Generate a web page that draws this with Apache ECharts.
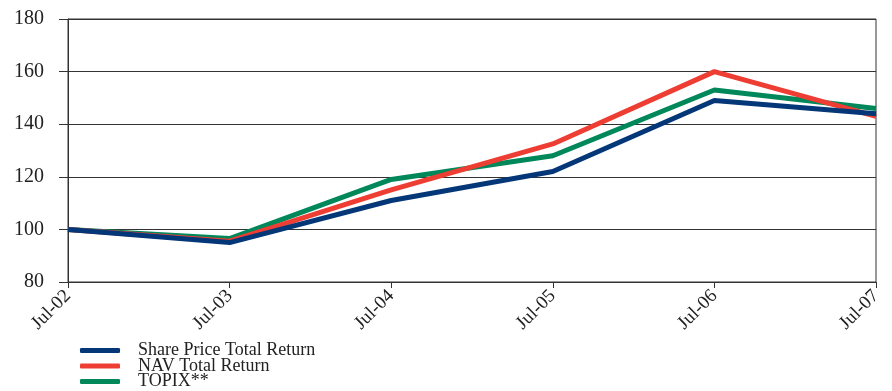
<!DOCTYPE html>
<html><head><meta charset="utf-8">
<script src="https://cdn.jsdelivr.net/npm/echarts@6/dist/echarts.min.js"></script>
<style>html,body{margin:0;padding:0;background:#fff}#c{width:892px;height:391px}</style>
</head><body><div id="c"></div>
<script>
var categories = ['Jul-02','Jul-03','Jul-04','Jul-05','Jul-06','Jul-07'];
var sharePrice = [100, 95, 111, 122, 149, 144];
var navReturn = [100, 95.5, 115, 132.5, 160, 143];
var topix = [100, 96.5, 119, 128, 153, 146];
var seriesNames = ['Share Price Total Return','NAV Total Return','TOPIX**'];

var font = '"Liberation Serif","Times New Roman",serif';
var legendTops = [341.5, 357, 372.5];
var legends = seriesNames.map(function (n, i) {
  return {
    orient: 'vertical', left: 80, top: legendTops[i], padding: 0, itemWidth: 40, itemHeight: 5,
    icon: 'roundRect', data: [n],
    textStyle: {fontFamily: font, fontSize: 18, color: '#222', padding: [0,0,0,13]}
  };
});
var chart = echarts.init(document.getElementById('c'));
chart.setOption({
  animation: false,
  grid: {left: 68, right: 16, top: 19, bottom: 109, show: true, borderColor: '#333', borderWidth: 1},
  legend: legends,
  xAxis: {
    type: 'category', data: categories, boundaryGap: false,
    axisLine: {lineStyle: {color: '#333', width: 1}},
    axisTick: {length: 6, lineStyle: {color: '#333'}},
    axisLabel: {rotate: 45, fontFamily: font, fontSize: 19, color: '#222', margin: 11},
    splitLine: {show: false}
  },
  yAxis: {
    type: 'value', min: 80, max: 180, interval: 20,
    axisLine: {show: true, lineStyle: {color: '#333'}},
    axisTick: {show: true, length: 9, lineStyle: {color: '#333'}},
    axisLabel: {fontFamily: font, fontSize: 20, color: '#222', margin: 24},
    splitLine: {lineStyle: {color: '#333', width: 1}}
  },
  series: [
    {name: seriesNames[2], type: 'line', data: topix, symbol: 'none', z: 2,
     lineStyle: {width: 5, color: '#00875a'}, itemStyle: {color: '#00875a'}},
    {name: seriesNames[1], type: 'line', data: navReturn, symbol: 'none', z: 3,
     lineStyle: {width: 5, color: '#ee3e33'}, itemStyle: {color: '#ee3e33'}},
    {name: seriesNames[0], type: 'line', data: sharePrice, symbol: 'none', z: 4,
     lineStyle: {width: 5, color: '#043778'}, itemStyle: {color: '#043778'}}
  ]
});
</script></body></html>
